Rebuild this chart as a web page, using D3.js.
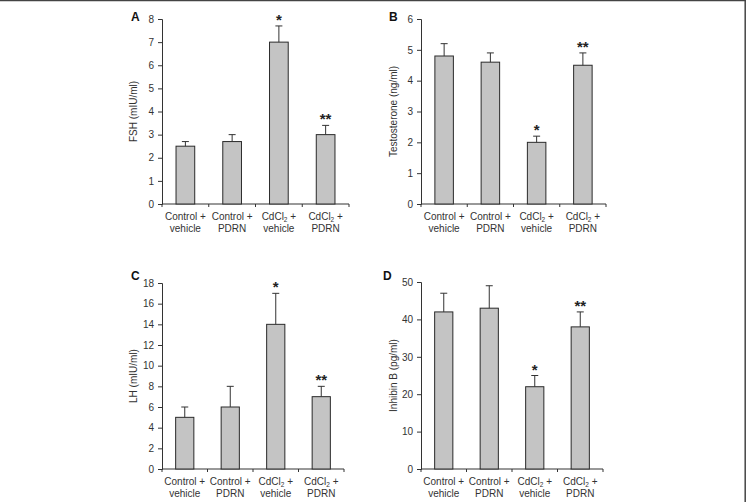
<!DOCTYPE html>
<html><head><meta charset="utf-8">
<script src="https://cdn.jsdelivr.net/npm/d3@7"></script>
<style>body{margin:0;background:#fff}svg{display:block}</style>
</head><body>
<svg id="c" width="746" height="502"></svg>
<script>
const categories = [["Control +","vehicle"],["Control +","PDRN"],["CdCl2 +","vehicle"],["CdCl2 +","PDRN"]];
const significance = ["","","*","**"];
const fshValues = [2.5, 2.7, 7.0, 3.0];
const fshErrors = [0.2, 0.3, 0.7, 0.4];
const testosteroneValues = [4.8, 4.6, 2.0, 4.5];
const testosteroneErrors = [0.4, 0.3, 0.2, 0.4];
const lhValues = [5, 6, 14, 7];
const lhErrors = [1, 2, 3, 1];
const inhibinValues = [42, 43, 22, 38];
const inhibinErrors = [5, 6, 3, 4];
const fshTicks = [0,1,2,3,4,5,6,7,8];
const testosteroneTicks = [0,1,2,3,4,5,6];
const lhTicks = [0,2,4,6,8,10,12,14,16,18];
const inhibinTicks = [0,10,20,30,40,50];

const panels = [
  {label:"A", title:"FSH (mIU/ml)", values:fshValues, errors:fshErrors, ticks:fshTicks, x0:162, x1:349, y0:204, y1:19, lx:131, ly:21, tx:133},
  {label:"B", title:"Testosterone (ng/ml)", values:testosteroneValues, errors:testosteroneErrors, ticks:testosteroneTicks, x0:421, x1:606, y0:204, y1:19, lx:389, ly:21, tx:393},
  {label:"C", title:"LH (mIU/ml)", values:lhValues, errors:lhErrors, ticks:lhTicks, x0:162, x1:344, y0:469, y1:283, lx:131, ly:280, tx:133},
  {label:"D", title:"Inhibin B (pg/ml)", values:inhibinValues, errors:inhibinErrors, ticks:inhibinTicks, x0:421, x1:603, y0:469, y1:282, lx:383, ly:280, tx:393}
];

const svg = d3.select("#c");
const font = "Liberation Sans, Arial, sans-serif";
const ink = "#333";
const fs = 10;

panels.forEach(p => {
  const g = svg.append("g");
  const x = d3.scaleBand().domain(d3.range(categories.length)).range([p.x0, p.x1]).paddingInner(0.6).paddingOuter(0.3);
  const y = d3.scaleLinear().domain([0, d3.max(p.ticks)]).range([p.y0, p.y1]);

  // y axis
  const ya = g.append("g").attr("transform", `translate(${p.x0},0)`)
    .call(d3.axisLeft(y).tickValues(p.ticks).tickFormat(d3.format("d")).tickSize(4).tickPadding(4));
  ya.select(".domain").attr("stroke", ink);
  ya.selectAll(".tick line").attr("stroke", ink);
  ya.selectAll("text").attr("font-family", font).attr("font-size", fs).attr("fill", ink);

  // x axis line with category-boundary ticks
  g.append("line").attr("x1", p.x0).attr("x2", p.x1).attr("y1", p.y0).attr("y2", p.y0).attr("stroke", ink);
  d3.range(categories.length + 1).forEach(i => {
    const xx = p.x0 + (p.x1 - p.x0) * i / categories.length;
    g.append("line").attr("x1", xx).attr("x2", xx).attr("y1", p.y0).attr("y2", p.y0 + 3).attr("stroke", ink);
  });

  // bars
  g.selectAll("rect.bar").data(p.values).join("rect")
    .attr("x", (d,i) => x(i)).attr("width", x.bandwidth())
    .attr("y", d => y(d)).attr("height", d => p.y0 - y(d))
    .attr("fill", "#c4c4c4").attr("stroke", "#2a2a2a").attr("stroke-width", 1);

  // error bars
  p.values.forEach((v,i) => {
    const cx = x(i) + x.bandwidth()/2;
    const top = y(v + p.errors[i]);
    g.append("line").attr("x1", cx).attr("x2", cx).attr("y1", y(v)).attr("y2", top).attr("stroke", ink);
    g.append("line").attr("x1", cx - 3.5).attr("x2", cx + 3.5).attr("y1", top).attr("y2", top).attr("stroke", ink);
    if (significance[i]) {
      g.append("text").attr("x", cx).attr("y", top - 1).attr("text-anchor", "middle")
        .attr("font-family", font).attr("font-size", 15).attr("font-weight", "bold").attr("fill", "#222")
        .text(significance[i]);
    }
  });

  // category labels
  categories.forEach((c,i) => {
    const cx = x(i) + x.bandwidth()/2;
    const t = g.append("text").attr("text-anchor", "middle").attr("font-family", font)
      .attr("font-size", fs).attr("fill", ink);
    const l1 = t.append("tspan").attr("x", cx).attr("y", p.y0 + 16);
    if (c[0].startsWith("CdCl2")) {
      l1.append("tspan").text("CdCl");
      l1.append("tspan").attr("font-size", 6.5).attr("dy", 2).text("2");
      l1.append("tspan").attr("dy", -2).text(" +");
    } else {
      l1.text(c[0]);
    }
    t.append("tspan").attr("x", cx).attr("y", p.y0 + 28).text(c[1]);
  });

  // y title
  g.append("text").attr("transform", `translate(${p.tx},${(p.y0 + p.y1)/2}) rotate(-90)`)
    .attr("text-anchor", "middle").attr("dy", "0.35em").attr("font-family", font)
    .attr("font-size", fs).attr("fill", ink).text(p.title);

  // panel letter
  g.append("text").attr("x", p.lx).attr("y", p.ly).attr("font-family", font)
    .attr("font-size", 12).attr("font-weight", "bold").attr("fill", "#111").text(p.label);
});

// frame (top and right edges)
svg.append("line").attr("x1", 0).attr("x2", 746).attr("y1", 0.5).attr("y2", 0.5).attr("stroke", "#444").attr("stroke-width", 1.5);
svg.append("line").attr("x1", 745.2).attr("x2", 745.2).attr("y1", 0).attr("y2", 502).attr("stroke", "#444").attr("stroke-width", 1.5);
</script>
</body></html>
